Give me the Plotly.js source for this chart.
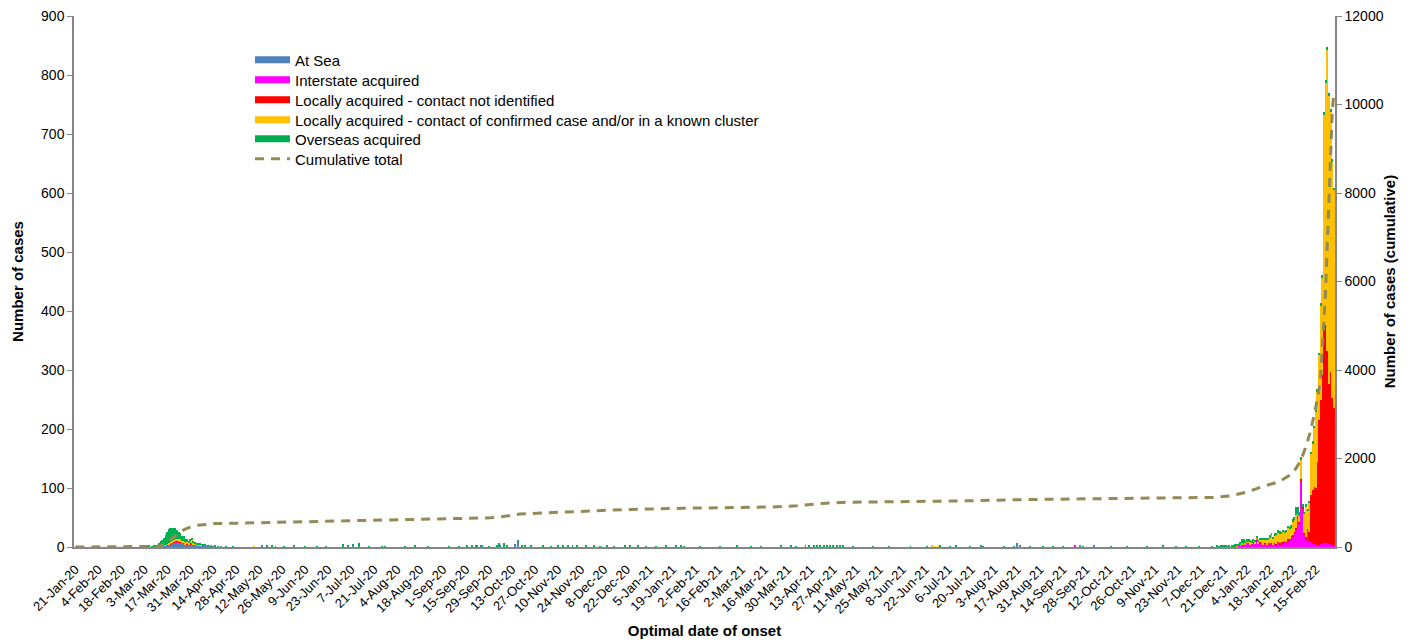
<!DOCTYPE html>
<html>
<head>
<meta charset="utf-8">
<script src="https://cdn.plot.ly/plotly-3.0.1.min.js"></script>
<style>html,body{margin:0;padding:0;background:#fff;}#chart{width:1410px;height:643px;}</style>
</head>
<body>
<div id="chart"></div>
<script>
// ---------- DATA (daily cases by optimal date of onset; days without cases omitted) ----------
const atSeaDays = ['2020-02-21','2020-03-12','2020-03-13','2020-03-14','2020-03-15','2020-03-16','2020-03-17','2020-03-18','2020-03-19','2020-03-20','2020-03-21','2020-03-22','2020-03-23','2020-03-24','2020-03-25','2020-03-26','2020-03-27','2020-03-28','2020-03-29','2020-03-30','2020-03-31','2020-04-01','2020-04-02','2020-04-03','2020-04-04','2020-04-05','2020-04-06','2020-04-07','2020-04-08','2020-04-09','2020-04-10','2020-04-11','2020-04-12','2020-04-13','2020-04-14','2020-04-15','2020-04-19','2020-05-14','2020-07-08','2020-09-22','2020-09-24','2020-10-06','2020-10-15','2020-10-17','2021-06-26','2021-07-26','2021-08-17','2021-08-19','2021-09-24','2021-10-03'];
const atSeaCases = [1,1,1,2,2,3,3,4,5,6,8,9,8,7,7,6,6,5,5,4,5,6,4,4,3,3,2,3,2,3,2,1,2,1,1,1,1,4,2,2,2,3,5,10,1,3,6,2,2,2];

const interstateDays = ['2020-03-18','2020-03-20','2020-03-22','2020-03-23','2020-03-25','2020-03-27','2021-09-21','2021-12-22','2021-12-24','2021-12-27','2021-12-28','2021-12-29','2021-12-30','2021-12-31',
 '2022-01-01','2022-01-02','2022-01-03','2022-01-04','2022-01-05','2022-01-06','2022-01-07','2022-01-08','2022-01-09','2022-01-10','2022-01-11','2022-01-12','2022-01-13','2022-01-14','2022-01-15','2022-01-16','2022-01-17','2022-01-18','2022-01-19','2022-01-20','2022-01-21','2022-01-22','2022-01-23','2022-01-24','2022-01-25','2022-01-26','2022-01-27','2022-01-28','2022-01-29','2022-01-30','2022-01-31',
 '2022-02-01','2022-02-02','2022-02-03','2022-02-04','2022-02-05','2022-02-06','2022-02-07','2022-02-08','2022-02-09','2022-02-10','2022-02-11','2022-02-12','2022-02-13','2022-02-14','2022-02-15','2022-02-16','2022-02-17','2022-02-18','2022-02-19','2022-02-20','2022-02-21','2022-02-22','2022-02-23','2022-02-24','2022-02-25','2022-02-26'];
const interstateCases = [1,1,1,1,1,1,2,1,1,1,2,1,2,3,
 5,6,4,7,8,5,6,8,5,14,5,7,6,4,6,3,5,6,5,3,6,4,7,5,8,6,9,7,10,12,15,
 18,22,30,48,40,113,65,20,12,25,10,8,6,5,5,4,4,5,6,6,7,6,5,5,4,4];

const localUnknownDays = ['2020-03-17','2020-03-19','2020-03-20','2020-03-21','2020-03-22','2020-03-23','2020-03-24','2020-03-25','2020-03-27','2020-03-29','2020-03-31','2020-04-02','2020-04-06',
 '2022-01-08','2022-01-10','2022-01-12','2022-01-15','2022-01-17','2022-01-19','2022-01-21','2022-01-22','2022-01-23','2022-01-24','2022-01-25','2022-01-26','2022-01-27','2022-01-28','2022-01-29','2022-01-30','2022-01-31',
 '2022-02-01','2022-02-02','2022-02-03','2022-02-04','2022-02-05','2022-02-06','2022-02-07','2022-02-08','2022-02-09','2022-02-10','2022-02-11','2022-02-12','2022-02-13','2022-02-14','2022-02-15','2022-02-16','2022-02-17','2022-02-18','2022-02-19','2022-02-20','2022-02-21','2022-02-22','2022-02-23','2022-02-24','2022-02-25','2022-02-26'];
const localUnknownCases = [1,1,1,1,1,1,1,1,1,1,1,1,1,
 1,1,1,1,1,1,1,1,1,2,1,2,1,2,3,2,3,
 3,4,3,4,3,2,2,4,5,6,15,80,90,97,95,140,211,244,285,362,370,326,271,292,248,231];

const localContactDays = ['2020-03-13','2020-03-15','2020-03-16','2020-03-17','2020-03-18','2020-03-19','2020-03-20','2020-03-21','2020-03-22','2020-03-23','2020-03-24','2020-03-25','2020-03-26','2020-03-27','2020-03-28','2020-03-29','2020-03-30','2020-03-31','2020-04-01','2020-04-02','2020-04-03','2020-04-04','2020-04-05','2020-04-06','2020-04-07','2020-04-08','2020-04-10','2020-04-12',
 '2020-05-09','2021-06-26','2021-06-28','2021-06-30','2021-12-26','2021-12-29','2021-12-31',
 '2022-01-01','2022-01-03','2022-01-04','2022-01-05','2022-01-06','2022-01-07','2022-01-08','2022-01-09','2022-01-10','2022-01-11','2022-01-12','2022-01-13','2022-01-14','2022-01-15','2022-01-16','2022-01-17','2022-01-18','2022-01-19','2022-01-20','2022-01-21','2022-01-22','2022-01-23','2022-01-24','2022-01-25','2022-01-26','2022-01-27','2022-01-28','2022-01-29','2022-01-30','2022-01-31',
 '2022-02-01','2022-02-02','2022-02-03','2022-02-04','2022-02-05','2022-02-06','2022-02-08','2022-02-09','2022-02-10','2022-02-11','2022-02-12','2022-02-13','2022-02-14','2022-02-15','2022-02-16','2022-02-17','2022-02-18','2022-02-19','2022-02-20','2022-02-21','2022-02-22','2022-02-23','2022-02-24','2022-02-25','2022-02-26'];
const localContactCases = [1,1,1,1,2,2,3,3,3,4,5,4,4,3,3,2,3,5,6,3,2,2,1,2,1,1,1,1,
 1,2,1,1,1,1,1,
 1,2,1,2,3,2,2,4,1,4,5,7,8,6,9,7,10,15,11,13,16,17,15,14,18,13,17,20,16,14,
 22,20,22,4,10,34,32,51,31,51,70,80,100,130,120,110,160,165,364,410,510,489,441,400,370];

const overseasDays = ['2020-03-01','2020-03-04','2020-03-06','2020-03-08','2020-03-09','2020-03-10','2020-03-11','2020-03-12','2020-03-13','2020-03-14','2020-03-15','2020-03-16','2020-03-17','2020-03-18','2020-03-19','2020-03-20','2020-03-21','2020-03-22','2020-03-23','2020-03-24','2020-03-25','2020-03-26','2020-03-27','2020-03-28','2020-03-29','2020-03-30','2020-03-31','2020-04-01','2020-04-02','2020-04-03','2020-04-04','2020-04-05','2020-04-06','2020-04-07','2020-04-08','2020-04-09','2020-04-11','2020-04-13','2020-04-15','2020-04-17','2020-04-22','2020-04-26',
 '2020-05-17','2020-05-20','2020-05-22','2020-05-27','2020-06-02','2020-06-09','2020-06-16','2020-06-22','2020-07-02','2020-07-05','2020-07-08','2020-07-12','2020-07-18','2020-07-26','2020-07-28','2020-08-09','2020-08-15','2020-08-23','2020-09-05','2020-09-11','2020-09-16','2020-09-19','2020-09-21','2020-09-25','2020-09-29','2020-10-04','2020-10-05','2020-10-08','2020-10-10','2020-10-17','2020-10-19','2020-10-21','2020-10-25','2020-11-01','2020-11-06','2020-11-10','2020-11-13','2020-11-16','2020-11-19','2020-11-22','2020-11-27','2020-12-02','2020-12-06','2020-12-10','2020-12-14','2020-12-21','2020-12-24','2020-12-29',
 '2021-01-03','2021-01-09','2021-01-15','2021-01-21','2021-01-24','2021-01-26','2021-02-05','2021-02-17','2021-02-27','2021-03-08','2021-03-14','2021-03-26','2021-04-01','2021-04-04','2021-04-10','2021-04-12','2021-04-15','2021-04-17','2021-04-19','2021-04-21','2021-04-23','2021-04-25','2021-04-27','2021-04-29','2021-05-01','2021-05-03','2021-05-09','2021-05-21','2021-05-31','2021-06-13','2021-06-23','2021-07-01','2021-07-07','2021-07-11','2021-07-19','2021-07-27','2021-08-09','2021-08-15','2021-08-25','2021-09-02','2021-09-08','2021-09-14','2021-09-26','2021-10-13','2021-10-23','2021-11-04','2021-11-14','2021-11-22','2021-11-28','2021-12-06','2021-12-14','2021-12-17','2021-12-18','2021-12-19','2021-12-20','2021-12-21','2021-12-22','2021-12-23','2021-12-24','2021-12-26','2021-12-27','2021-12-28','2021-12-29','2021-12-30','2021-12-31',
 '2022-01-01','2022-01-02','2022-01-03','2022-01-04','2022-01-05','2022-01-06','2022-01-07','2022-01-08','2022-01-09','2022-01-10','2022-01-11','2022-01-12','2022-01-13','2022-01-14','2022-01-15','2022-01-16','2022-01-17','2022-01-18','2022-01-19','2022-01-20','2022-01-21','2022-01-22','2022-01-23','2022-01-24','2022-01-25','2022-01-26','2022-01-27','2022-01-28','2022-01-29','2022-01-30','2022-01-31',
 '2022-02-01','2022-02-02','2022-02-03','2022-02-04','2022-02-05','2022-02-06','2022-02-07','2022-02-08','2022-02-09','2022-02-10','2022-02-11','2022-02-12','2022-02-13','2022-02-14','2022-02-15','2022-02-16','2022-02-17','2022-02-18','2022-02-19','2022-02-20','2022-02-21','2022-02-22','2022-02-23','2022-02-24','2022-02-25','2022-02-26'];
const overseasCases = [1,1,2,1,2,3,4,6,8,10,13,16,20,24,25,22,20,18,14,13,11,9,7,6,5,4,3,3,2,2,1,2,1,1,1,1,1,1,1,1,1,1,
 2,3,1,1,4,1,1,1,5,4,2,7,1,1,1,1,2,1,1,1,2,2,3,2,1,3,6,6,3,1,4,2,2,2,1,2,2,3,3,4,2,2,1,2,1,3,3,2,
 1,1,2,3,2,1,1,1,2,1,1,3,3,1,4,3,3,2,3,4,3,2,3,2,2,3,1,1,1,1,1,2,1,3,1,1,1,1,1,1,1,1,1,1,1,1,2,1,1,1,1,2,1,3,2,3,2,1,1,2,2,3,2,3,4,
 7,8,4,5,3,4,3,2,3,2,3,2,3,2,3,2,3,4,2,2,3,2,3,5,2,3,4,2,3,4,6,
 4,5,13,12,6,3,6,4,5,3,2,2,3,3,2,3,4,4,5,5,5,6,5,5,5,4];

// cumulative total
const cumulativeDays = ['2020-01-21','2020-02-21','2020-03-05','2020-03-10','2020-03-13','2020-03-16','2020-03-19','2020-03-22','2020-03-25','2020-03-28','2020-03-31','2020-04-04','2020-04-09','2020-04-15','2020-04-30','2020-05-20','2020-06-15','2020-07-01','2020-07-14','2020-08-15','2020-09-15','2020-09-30','2020-10-08','2020-10-18','2020-11-01','2020-11-25','2020-12-24','2021-01-25','2021-02-28','2021-03-20','2021-04-05','2021-04-20','2021-05-05','2021-06-20','2021-07-20','2021-08-20','2021-09-30','2021-11-15','2021-12-15','2021-12-24','2022-01-04','2022-01-13','2022-01-24','2022-01-30','2022-02-03','2022-02-06','2022-02-09','2022-02-12','2022-02-15','2022-02-17','2022-02-18','2022-02-19','2022-02-20','2022-02-21','2022-02-22','2022-02-23','2022-02-24','2022-02-25','2022-02-26'];
const cumulativeTotal = [0,1,5,12,30,70,160,260,345,405,450,490,515,530,540,555,570,580,600,615,635,660,690,745,770,810,850,875,890,905,930,985,1010,1025,1045,1070,1095,1110,1120,1150,1240,1360,1480,1620,1780,1970,2270,2640,3170,3550,3900,4450,5150,5850,6900,7850,8900,9800,10300];

const seriesNames = ['At Sea','Interstate acquired','Locally acquired - contact not identified','Locally acquired - contact of confirmed case and/or in a known cluster','Overseas acquired'];
const seriesColors = ['#4F81BD','#FF00FF','#FF0000','#FFC000','#00B050'];
const seriesDays = [atSeaDays, interstateDays, localUnknownDays, localContactDays, overseasDays];
const seriesCases = [atSeaCases, interstateCases, localUnknownCases, localContactCases, overseasCases];
const cumulativeName = 'Cumulative total';
const cumulativeColor = '#948A54';

const firstTick = '2020-01-21';
const tickStepDays = 14;
const axisRange = ['2020-01-20 04:48', '2022-02-26 16:48'];

// ---------- CHART ----------
const DAY = 86400000;
const legendIds = ['legend','legend2','legend3','legend4','legend5','legend6'];
const legendRowsPx = [60, 80, 100, 120, 139, 159];   // vertical position of each legend row
const traces = [];
seriesNames.forEach((name, i) => {
  traces.push({
    type: 'bar', name: name, x: seriesDays[i], y: seriesCases[i],
    width: DAY * 0.6, marker: {color: seriesColors[i], line: {width: 0}},
    showlegend: false, hoverinfo: 'x+y+name'
  });
});
// legend entries drawn as wide bars like the original
seriesNames.forEach((name, i) => {
  traces.push({
    type: 'scatter', mode: 'lines', name: name, x: [null], y: [null], legend: legendIds[i],
    line: {color: seriesColors[i], width: 7}, showlegend: true, hoverinfo: 'skip'
  });
});
traces.push({
  type: 'scatter', mode: 'lines', name: cumulativeName, x: cumulativeDays, y: cumulativeTotal,
  yaxis: 'y2', legend: legendIds[5], line: {color: cumulativeColor, width: 3, dash: '9px,7px'}
});

const axisGrey = '#868686';
const M = {l: 74, r: 75, t: 16, b: 96};
const plotH = 643 - M.t - M.b;
const plotW = 1410 - M.l - M.r;
const layout = {
  width: 1410, height: 643,
  margin: M,
  paper_bgcolor: '#fff', plot_bgcolor: '#fff',
  font: {family: '"Liberation Sans", Arial, sans-serif', color: '#000', size: 14},
  barmode: 'stack',
  showlegend: true,
  xaxis: {
    type: 'date', range: axisRange, tick0: firstTick, dtick: tickStepDays * DAY,
    tickformat: '%-d-%b-%y', tickangle: -45, tickfont: {size: 13, color: '#000'},
    showline: true, linecolor: axisGrey, linewidth: 1.5,
    ticks: 'outside', ticklen: 8, tickcolor: 'rgba(0,0,0,0)',
    showgrid: false, zeroline: false,
    title: {text: '<b>Optimal date of onset</b>', font: {size: 15, color: '#000'}, standoff: 10}
  },
  yaxis: {
    range: [0, 900], dtick: 100, ticks: 'outside', ticklen: 5, tickcolor: axisGrey, tickwidth: 1,
    showline: true, linecolor: axisGrey, linewidth: 1.5, showgrid: false, zeroline: false,
    tickfont: {size: 14, color: '#000'},
    title: {text: '<b>Number of cases</b>', font: {size: 15, color: '#000'}, standoff: 14}
  },
  yaxis2: {
    overlaying: 'y', side: 'right', range: [0, 12000], dtick: 2000, tickformat: 'd',
    ticks: 'outside', ticklen: 5, tickcolor: axisGrey,
    showline: true, linecolor: axisGrey, linewidth: 1.5, showgrid: false, zeroline: false,
    tickfont: {size: 14, color: '#000'},
    title: {text: '<b>Number of cases (cumulative)</b>', font: {size: 15, color: '#000'}, standoff: 2}
  }
};
legendIds.forEach((id, i) => {
  layout[id] = {
    x: (250 - M.l) / plotW, xanchor: 'left',
    y: 1 - (legendRowsPx[i] - M.t) / plotH, yanchor: 'middle',
    font: {size: 15, color: '#000'}, bgcolor: 'rgba(0,0,0,0)', borderwidth: 0, itemwidth: 35
  };
});
Plotly.newPlot('chart', traces, layout, {displayModeBar: false, responsive: false});
</script>
</body>
</html>
